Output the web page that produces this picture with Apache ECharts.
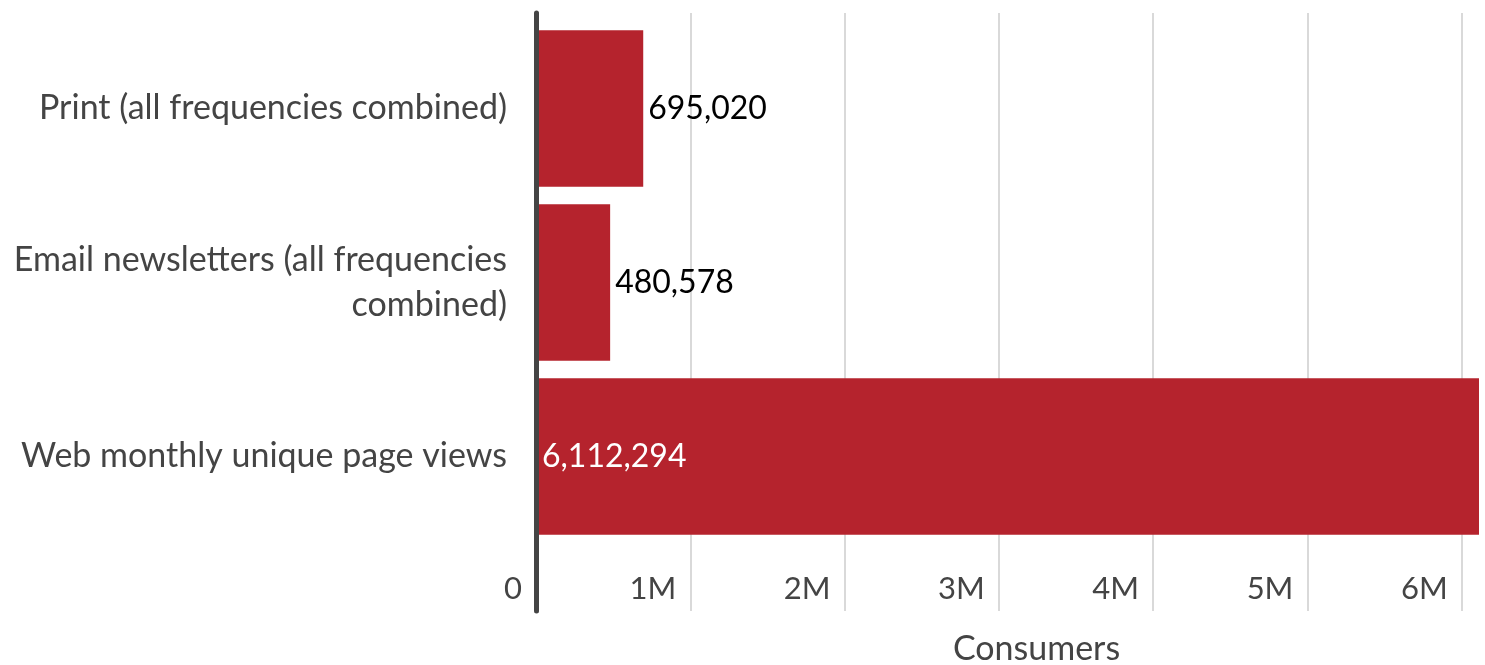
<!DOCTYPE html>
<html>
<head>
<meta charset="utf-8">
<script src="https://cdn.jsdelivr.net/npm/echarts@6/dist/echarts.min.js"></script>
<style>
  html, body { margin: 0; padding: 0; background: #fff; }
  #chart { width: 1485px; height: 665px; }
</style>
</head>
<body>
<div id="chart"></div>
<script>
// Reach per channel
const categories = [
  'Print (all frequencies combined)',
  'Email newsletters (all frequencies combined)',
  'Web monthly unique page views'
];
const consumers = [695020, 480578, 6112294];
const axisTitle = 'Consumers';

const FONT = 'Lato';
const BAR = '#b5232d';
const LABEL_SIZE = 34;
const LABEL_WIDTH = 505;
const maxVal = Math.max(...consumers);

function fmtTick(v) {
  return v === 0 ? '0' : (v / 1e6) + 'M';
}

// Greedy word wrap so wrapped lines carry no trailing space
const measureCtx = document.createElement('canvas').getContext('2d');
function wrapLabel(text) {
  measureCtx.font = LABEL_SIZE + 'px ' + FONT;
  const words = text.split(' ');
  const lines = [];
  let line = '';
  words.forEach(w => {
    const tryLine = line ? line + ' ' + w : w;
    if (line && measureCtx.measureText(tryLine).width > LABEL_WIDTH) {
      lines.push(line);
      line = w;
    } else {
      line = tryLine;
    }
  });
  lines.push(line);
  return lines.join('\n');
}

const chart = echarts.init(document.getElementById('chart'), null, { renderer: 'canvas' });

chart.setOption({
  animation: false,
  textStyle: { fontFamily: FONT },
  grid: [
    // bars
    { left: 536, right: 6, top: 21.5, bottom: 121.5, outerBoundsMode: 'none' },
    // frame: gridlines, zero line, ticks
    { left: 536, right: 6, top: 13, bottom: 54, outerBoundsMode: 'none' }
  ],
  xAxis: [
    {
      gridIndex: 0, type: 'value', min: 0, max: maxVal,
      show: false
    },
    {
      gridIndex: 1, type: 'value', min: 0, max: maxVal, interval: 1000000,
      axisLine: { show: false },
      axisTick: { show: false },
      splitLine: {
        show: true, showMinLine: false, showMaxLine: false,
        lineStyle: { color: '#d9d9d9', width: 2 }
      },
      axisLabel: {
        inside: true, margin: 7,
        align: 'right', padding: [0, 14, 0, 0],
        color: '#444', fontSize: 31, fontFamily: FONT,
        showMaxLabel: false,
        formatter: fmtTick
      },
      name: axisTitle, nameLocation: 'middle', nameGap: 21,
      nameTextStyle: {
        color: '#444', fontSize: LABEL_SIZE, fontFamily: FONT,
        padding: [0, 0, 0, 58], verticalAlign: 'top'
      }
    }
  ],
  yAxis: [
    {
      gridIndex: 0, type: 'category', data: categories, inverse: true,
      axisLine: { show: false },
      axisTick: { show: false },
      splitLine: { show: false },
      axisLabel: {
        color: '#444', fontSize: LABEL_SIZE, fontFamily: FONT, margin: 29,
        lineHeight: 45, align: 'right',
        formatter: wrapLabel
      }
    },
    {
      gridIndex: 1, type: 'value', min: 0, max: 1, z: 10,
      axisLine: { show: true, lineStyle: { color: '#444', width: 5 } },
      axisTick: { show: false },
      axisLabel: { show: false },
      splitLine: { show: false }
    }
  ],
  series: [
    {
      type: 'bar',
      xAxisIndex: 0, yAxisIndex: 0,
      barCategoryGap: '10%',
      itemStyle: { color: BAR },
      label: {
        show: true, position: 'right', distance: 5,
        color: '#000', fontSize: 32, fontFamily: FONT,
        formatter: p => p.value.toLocaleString('en-US')
      },
      data: consumers.map(v => (
        v > maxVal / 2
          ? { value: v, label: { position: 'insideLeft', distance: 6, color: '#fff' } }
          : { value: v }
      ))
    }
  ]
});
</script>
</body>
</html>
